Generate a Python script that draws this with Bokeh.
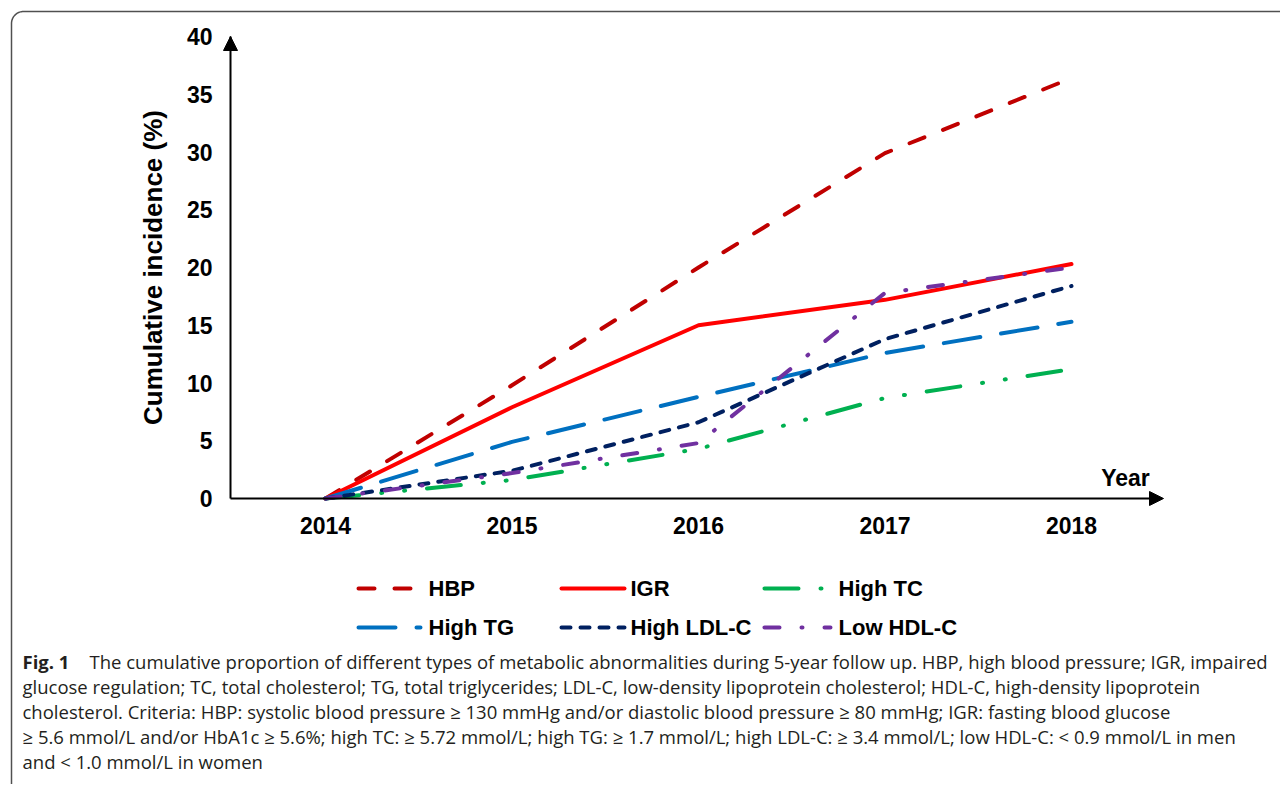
import numpy as np
from bokeh.plotting import figure
from bokeh.models import Range1d, LinearAxis, FixedTicker
from bokeh.core.properties import value
from bokeh.embed import file_html
from bokeh.resources import INLINE

# ---------------- data ----------------
years = [2014, 2015, 2016, 2017, 2018]
hbp = [0, 9.8, 20.0, 29.9, 36.4]
igr = [0, 7.9, 15.0, 17.2, 20.3]
high_tc = [0, 1.6, 4.3, 8.7, 11.2]
high_tg = [0, 4.9, 8.8, 12.6, 15.3]
high_ldl = [0, 2.4, 6.6, 13.8, 18.4]
low_hdl = [0, 2.2, 4.8, 17.8, 20.0]
y_ticks = [0, 5, 10, 15, 20, 25, 30, 35, 40]
series_names = ["HBP", "IGR", "High TC", "High TG", "High LDL-C", "Low HDL-C"]
y_label = "Cumulative incidence (%)"
x_label = "Year"
fig_label = "Fig. 1"
caption_lines = [
    "The cumulative proportion of different types of metabolic abnormalities during 5-year follow up. HBP, high blood pressure; IGR, impaired",
    "glucose regulation; TC, total cholesterol; TG, total triglycerides; LDL-C, low-density lipoprotein cholesterol; HDL-C, high-density lipoprotein",
    "cholesterol. Criteria: HBP: systolic blood pressure \u2265 130 mmHg and/or diastolic blood pressure \u2265 80 mmHg; IGR: fasting blood glucose",
    "\u2265 5.6 mmol/L and/or HbA1c \u2265 5.6%; high TC: \u2265 5.72 mmol/L; high TG: \u2265 1.7 mmol/L; high LDL-C: \u2265 3.4 mmol/L; low HDL-C: < 0.9 mmol/L in men",
    "and < 1.0 mmol/L in women",
]
series_values = [hbp, igr, high_tc, high_tg, high_ldl, low_hdl]

# ---------------- styles / layout ----------------
colors = ["#C00000", "#FF0000", "#00B050", "#0070C0", "#002060", "#7030A0"]
dashes = ["16 20", "solid", "34 22 1 22 1 22", "37 21", "9 10", "15 22 1 22"]
LW = 4

W, H, M = 1280, 784, 0
X2014, PX_PER_YEAR = 325.0, 186.5
Y0, PX_PER_PCT = 498.0, 11.55
AXIS_X, AXIS_TOP, AXIS_RIGHT = 230.0, 36.0, 1163.0
BOLD_FONT = "Liberation Sans"
CAP_FONT = "Open Sans"


def yr_at(X):
    return years[0] + (X - X2014) / PX_PER_YEAR


def pct_at(Y):
    return (Y0 - Y) / PX_PER_PCT


p = figure(width=W, height=H,
           x_range=Range1d(yr_at(M), yr_at(M + W)),
           y_range=Range1d(pct_at(M + H), pct_at(M)),
           x_axis_type=None, y_axis_type=None, min_border=0,
           toolbar_location=None, output_backend="svg",
           outline_line_color=None, background_fill_color="white",
           border_fill_color="white")
p.extra_x_ranges = {"px": Range1d(M, M + W)}
p.extra_y_ranges = {"py": Range1d(M + H, M)}
PX = dict(x_range_name="px", y_range_name="py")

# ---------------- outer rounded frame ----------------
r = 12.0
bx, by = 11.0, 11.0
th = np.linspace(np.pi, 1.5 * np.pi, 20)
fx = [bx] + list(bx + r + r * np.cos(th)) + [M + W + 10]
fy = [M + H + 10] + list(by + r + r * np.sin(th)) + [by]
p.line(fx, fy, line_color="#505050", line_width=1.5, **PX)

# ---------------- axes ----------------
xaxis = LinearAxis(fixed_location=0, bounds=(yr_at(AXIS_X), yr_at(AXIS_RIGHT - 10)),
                   ticker=FixedTicker(ticks=years))
yaxis = LinearAxis(fixed_location=yr_at(AXIS_X), bounds=(0, pct_at(AXIS_TOP)),
                   ticker=FixedTicker(ticks=y_ticks), axis_label=y_label)
for ax in (xaxis, yaxis):
    ax.axis_line_color = "black"
    ax.axis_line_width = 2
    ax.major_tick_line_color = None
    ax.minor_tick_line_color = None
    ax.major_tick_in = 0
    ax.major_tick_out = 0
    ax.major_label_text_font = BOLD_FONT
    ax.major_label_text_font_style = "bold"
    ax.major_label_text_font_size = "23px"
    ax.major_label_text_color = "black"
xaxis.major_label_standoff = 18
yaxis.major_label_standoff = 18
yaxis.axis_label_text_font = BOLD_FONT
yaxis.axis_label_text_font_style = "bold"
yaxis.axis_label_text_font_size = "26px"
yaxis.axis_label_text_color = "black"
yaxis.axis_label_standoff = 16
p.add_layout(xaxis, "below")
p.add_layout(yaxis, "left")

# arrow heads
p.patch([AXIS_X, AXIS_X - 7, AXIS_X + 7], [AXIS_TOP, AXIS_TOP + 14, AXIS_TOP + 14],
        color="black", **PX)
p.patch([AXIS_RIGHT, AXIS_RIGHT - 14, AXIS_RIGHT - 14], [Y0, Y0 - 7, Y0 + 7],
        color="black", **PX)
p.text(x=[1125], y=[477], text=[x_label], text_font=value(BOLD_FONT),
       text_font_style="bold", text_font_size="23px", text_align="center",
       text_baseline="middle", text_color="black", **PX)

# ---------------- series ----------------
for vals, c, d in zip(series_values, colors, dashes):
    p.line(years, vals, line_color=c, line_width=LW, line_dash=d,
           line_cap="round", line_join="round")

# ---------------- legend (manual) ----------------
leg_rows = [588, 627]
leg_x0 = [358, 561, 764, 358, 561, 764]
leg_x1 = [416, 624, 830, 420, 624, 830]
leg_tx = [428, 630, 838, 428, 630, 838]
for i, (name, c, d) in enumerate(zip(series_names, colors, dashes)):
    yy = leg_rows[i // 3]
    p.line([leg_x0[i], leg_x1[i]], [yy, yy], line_color=c, line_width=LW,
           line_dash=d, line_cap="round", **PX)
    p.text(x=[leg_tx[i]], y=[yy], text=[name], text_font=value(BOLD_FONT),
           text_font_style="bold", text_font_size="22px", text_align="left",
           text_baseline="middle", text_color="black", **PX)

# ---------------- caption ----------------
cap_y = [661 + 25 * i for i in range(len(caption_lines))]
cap_x = [89] + [22] * (len(caption_lines) - 1)
p.text(x=[22], y=[cap_y[0]], text=[fig_label], text_font=value(CAP_FONT),
       text_font_style="bold", text_font_size="18.5px", text_align="left",
       text_baseline="middle", text_color="#231f20", **PX)
p.text(x=cap_x, y=cap_y, text=caption_lines, text_font=value(CAP_FONT),
       text_font_size="18.5px", text_align="left", text_baseline="middle",
       text_color="#231f20", **PX)

open("out.html", "w").write(file_html(p, INLINE))
